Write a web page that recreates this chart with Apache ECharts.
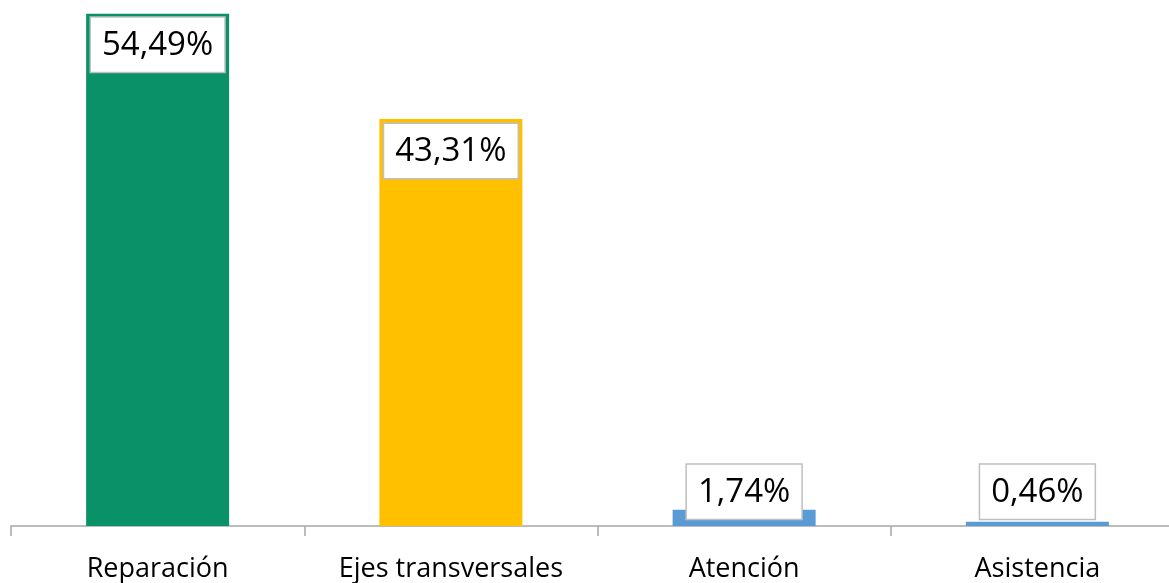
<!DOCTYPE html>
<html>
<head>
<meta charset="utf-8">
<script src="https://cdn.jsdelivr.net/npm/echarts@6/dist/echarts.min.js"></script>
<style>
  html, body { margin: 0; padding: 0; background: #fff; overflow: hidden; }
  /* axis runs past the right edge in the original, so the canvas is a bit wider than the window */
  #chart { width: 1184px; height: 583px; }
</style>
</head>
<body>
<div id="chart"></div>
<script>
const categories = ['Reparación', 'Ejes transversales', 'Atención', 'Asistencia'];
const values = [54.49, 43.31, 1.74, 0.46];
const barColors = ['#0a9168', '#ffc000', '#5b9bd5', '#5b9bd5'];
// big bars carry the label inside, small ones sit it on top
const labelPos = ['insideTop', 'insideTop', 'top', 'top'];
const labelDist = [4, 5, -9, 3];

const chart = echarts.init(document.getElementById('chart'));

const option = {
    animation: false,
    grid: {
        left: 11,
        right: 0,
        top: 9,
        bottom: 55
    },
    xAxis: {
        type: 'category',
        data: categories,
        axisLine: {
            lineStyle: { color: '#a6a6a6', width: 1.5 }
        },
        axisTick: {
            show: true,
            interval: 0,
            length: 10,
            lineStyle: { color: '#a6a6a6', width: 1.5 }
        },
        axisLabel: {
            interval: 0,
            margin: 30,
            fontFamily: 'Open Sans',
            fontSize: 27,
            color: '#000'
        }
    },
    yAxis: {
        type: 'value',
        min: 0,
        max: 55,
        show: false,
        splitLine: { show: false }
    },
    series: [
        {
            type: 'bar',
            barWidth: 143,
            data: values.map(function (v, i) {
                return {
                    value: v,
                    itemStyle: { color: barColors[i] },
                    label: {
                        position: labelPos[i],
                        distance: labelDist[i]
                    }
                };
            }),
            label: {
                show: true,
                formatter: function (p) {
                    return p.value.toFixed(2).replace('.', ',') + '%';
                },
                fontFamily: 'Open Sans',
                fontSize: 33,
                lineHeight: 36,
                color: '#000',
                backgroundColor: '#fff',
                borderColor: '#bfbfbf',
                borderWidth: 1.5,
                padding: [10, 11, 8, 11]
            }
        }
    ]
};

chart.setOption(option);
</script>
</body>
</html>
